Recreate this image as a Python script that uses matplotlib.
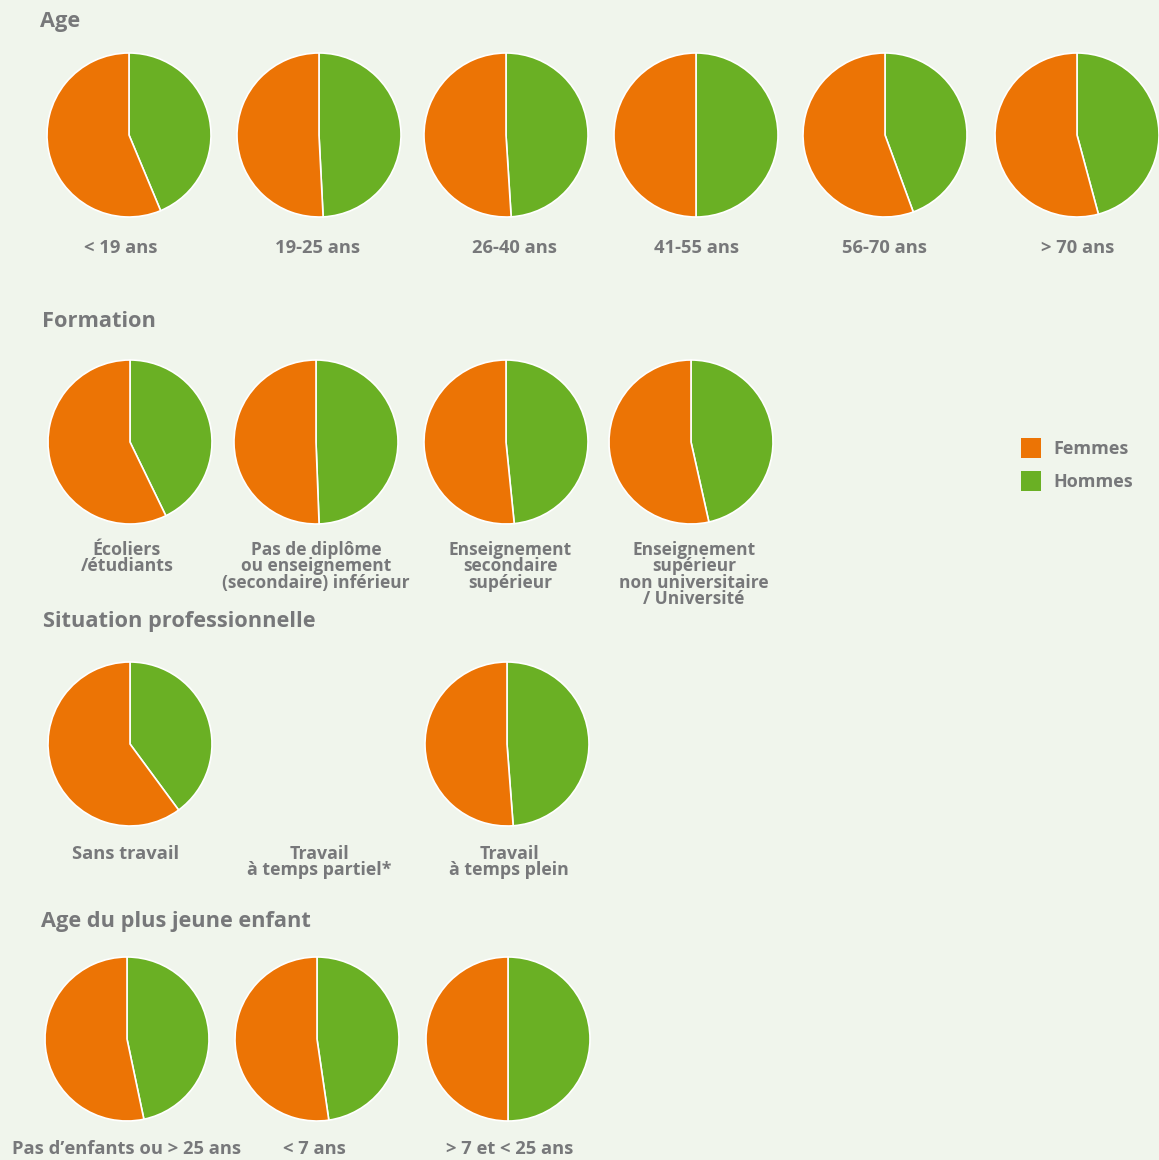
import matplotlib.pyplot as plt
from matplotlib.patches import Rectangle

# share of men / women (%) per group
age_labels = ['< 19 ans', '19-25 ans', '26-40 ans', '41-55 ans', '56-70 ans', '> 70 ans']
age_hommes = [43.7, 49.2, 49.0, 50.0, 44.4, 45.8]
age_femmes = [56.3, 50.8, 51.0, 50.0, 55.6, 54.2]

formation_labels = ['Écoliers\n/étudiants',
                    'Pas de diplôme\nou enseignement\n(secondaire) inférieur',
                    'Enseignement\nsecondaire\nsupérieur',
                    'Enseignement\nsupérieur\nnon universitaire\n/ Université']
formation_hommes = [42.8, 49.4, 48.4, 46.5]
formation_femmes = [57.2, 50.6, 51.6, 53.5]

situation_labels = ['Sans travail', 'Travail\nà temps partiel*', 'Travail\nà temps plein']
situation_hommes = [39.9, None, 48.8]
situation_femmes = [60.1, None, 51.2]

enfant_labels = ['Pas d’enfants ou > 25 ans', '< 7 ans', '> 7 et < 25 ans']
enfant_hommes = [46.7, 47.7, 50.0]
enfant_femmes = [53.3, 52.3, 50.0]

ORANGE = '#ec7405'
GREEN = '#6ab024'
GREY = '#77787a'
BG = '#f0f5ec'

W, H = 1159, 1160
plt.rcParams['font.family'] = ['Open Sans', 'DejaVu Sans']

fig = plt.figure(figsize=(W / 100, H / 100), dpi=100, facecolor=BG)

R = 82


def pie_at(cx, cy, hommes, femmes):
    ax = fig.add_axes([(cx - R) / W, 1 - (cy + R) / H, 2 * R / W, 2 * R / H])
    ax.pie([hommes, femmes], colors=[GREEN, ORANGE], startangle=90,
           counterclock=False, radius=1,
           wedgeprops=dict(edgecolor='white', linewidth=1.2))
    ax.set_xlim(-1, 1)
    ax.set_ylim(-1, 1)
    ax.set_aspect('equal')
    ax.axis('off')


def text_px(x, y, s, size, ha='center', va='center', weight='bold', ls=0.82):
    fig.text(x / W, 1 - y / H, s, fontsize=size, color=GREY, ha=ha, va=va,
             fontweight=weight, linespacing=ls)


sections = [
    ('Age', (40, 22), age_labels, age_hommes, age_femmes, 135,
     [129, 319, 506, 696, 885, 1077], [121, 318, 515, 697, 885, 1078], 248),
    ('Formation', (42, 321), formation_labels, formation_hommes, formation_femmes, 442,
     [130, 316, 506, 691], [127, 316, 510, 694], 550),
    ('Situation professionnelle', (43, 622), situation_labels, situation_hommes,
     situation_femmes, 744, [130, 319, 507], [126, 319, 509], 854),
    ('Age du plus jeune enfant', (41, 922), enfant_labels, enfant_hommes, enfant_femmes,
     1039, [127, 317, 508], [127, 314, 510], 1149),
]

for title, (tx, ty), labels, hommes, femmes, cy, xs, lxs, ly in sections:
    text_px(tx, ty, title, 15.7, ha='left')
    for x, lx, lab, h, f in zip(xs, lxs, labels, hommes, femmes):
        if h is not None:
            pie_at(x, cy, h, f)
        n = lab.count('\n')
        size = 12.5 if n >= 2 else (12.8 if n == 1 else 13.2)
        text_px(lx, ly - 9, lab, size, va='top', ls=0.88 if n >= 1 else 0.82)

# legend
for y, name, col in [(448, 'Femmes', ORANGE), (481, 'Hommes', GREEN)]:
    fig.patches.append(Rectangle((1021 / W, 1 - (y + 10) / H), 20 / W, 20 / H,
                                 transform=fig.transFigure, facecolor=col,
                                 edgecolor='none'))
    text_px(1053, y + 1, name, 13, ha='left')

fig.savefig('out.png', dpi=100, facecolor=BG)
